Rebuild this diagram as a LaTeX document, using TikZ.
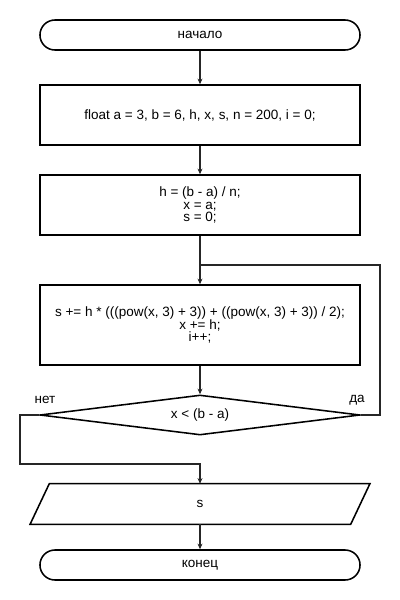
\documentclass[tikz,border=0pt]{standalone}
\usepackage{fontspec}
\setmainfont{Liberation Sans}
\usetikzlibrary{shapes.geometric}
\usetikzlibrary{arrows.meta}

\begin{document}
\begin{tikzpicture}[x=0.025cm, y=-0.025cm,
    font=\fontsize{9.6}{9}\selectfont,
    edge/.style={draw=black, line width=1.1pt},
    block/.style={edge, minimum width=8cm, align=center, inner sep=0pt},
    term/.style={block, rounded corners=0.375cm, minimum height=0.75cm},
    proc/.style={block, rectangle},
    cond/.style={block, diamond, aspect=8, minimum height=1cm},
    io/.style={minimum width=8cm, minimum height=1cm, inner sep=0pt},
    line/.style={draw=black!85, line width=0.8pt},
    arr/.style={line, -{Stealth[length=4pt, width=3.5pt]}}]
  \useasboundingbox (0,0) rectangle (400,600);

  \node[term] (start) at (200,35) {начало};
  \node[proc, minimum height=1.5cm] (init) at (200,115) {float a = 3, b = 6, h, x, s, n = 200, i = 0;};
  \node[proc, minimum height=1.5cm] (setup) at (200,205) {h = (b - a) / n;\\ x = a;\\ s = 0;};
  \node[proc, minimum height=2cm] (body) at (200,325)
    {s += h * (((pow(x, 3) + 3)) + ((pow(x, 3) + 3)) / 2);\\ x += h;\\ i++;};
  \node[cond] (check) at (200,415) {x < (b - a)};
  \node[io] (out) at (200,504) {s};
  \draw[edge] ([xshift=0.24cm]out.north west) -- ([xshift=0.24cm]out.north east)
    -- ([xshift=-0.24cm]out.south east) -- ([xshift=-0.24cm]out.south west) -- cycle;
  \node[term] (stop) at (200,565) {конец};

  \node (no) at (45,400) {нет};
  \node (yes) at (357,400) {да};

  \coordinate (join) at (200,265);
  \coordinate (back) at (380,265);
  \coordinate (exit) at (20,464);

  \draw[arr] (start) -- (init);
  \draw[arr] (init) -- (setup);
  \draw[arr] (setup) -- (body);
  \draw[arr] (body) -- (check);
  \draw[line] (check.east) -| (back) -- (join);
  \draw[arr] (check.west) -| (exit) -| (out.north);
  \draw[arr] (out) -- (stop);
\end{tikzpicture}
\end{document}
